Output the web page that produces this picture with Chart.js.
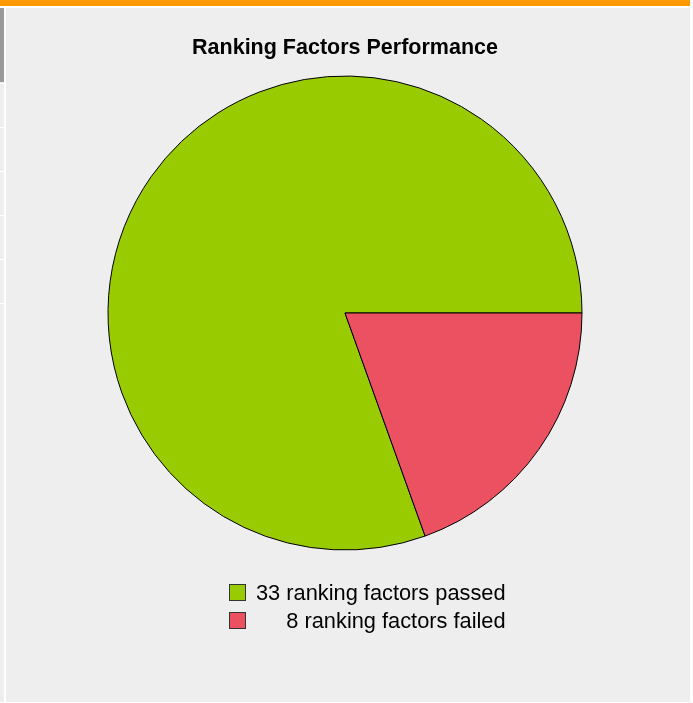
<!DOCTYPE html>
<html>
<head>
<meta charset="utf-8">
<script src="https://cdn.jsdelivr.net/npm/chart.js@4"></script>
<style>
  html, body { margin: 0; padding: 0; background: #ffffff; }
  body { width: 693px; height: 703px; position: relative; overflow: hidden; font-family: "Liberation Sans", Arial, sans-serif; }
  #topbar { position: absolute; left: 0; top: 0; width: 690px; height: 6px; background: #ff9900; }
  #side { position: absolute; left: 0; top: 8px; width: 4px; height: 694px; background: #eeeeee; }
  #sideTab { position: absolute; left: 0; top: 8px; width: 4px; height: 74px; background: #999999; }
  .sideLine { position: absolute; left: 0; width: 4px; height: 1px; background: #ffffff; }
  #panel { position: absolute; left: 6px; top: 8px; width: 684px; height: 694px; background: #eeeeee; }
  #legend { position: absolute; left: 229px; top: 579px; display: grid; grid-template-columns: 17px auto; column-gap: 10px; }
  .legBox { box-sizing: border-box; width: 17px; height: 17px; border: 1px solid #333333; align-self: center; }
  .legText { font-size: 21.8px; line-height: 27.6px; height: 27.6px; color: #000000; text-align: right; white-space: nowrap; }
</style>
</head>
<body>
<div id="topbar"></div>
<div id="side"></div>
<div id="sideTab"></div>
<div class="sideLine" style="top:83px"></div>
<div class="sideLine" style="top:127px"></div>
<div class="sideLine" style="top:171px"></div>
<div class="sideLine" style="top:215px"></div>
<div class="sideLine" style="top:259px"></div>
<div class="sideLine" style="top:303px"></div>
<div id="panel"><canvas id="rankingPie"></canvas></div>
<div id="legend"></div>
<script>
const chartTitle = "Ranking Factors Performance";
const labels = ["33 ranking factors passed", "8 ranking factors failed"];
const values = [33, 8];
const colors = ["#99cc00", "#eb5161"];

const fontFamily = "'Liberation Sans', Arial, sans-serif";

function buildLegend() {
  const legend = document.getElementById("legend");
  labels.forEach((label, i) => {
    const box = document.createElement("div");
    box.className = "legBox";
    box.style.background = colors[i];
    const text = document.createElement("div");
    text.className = "legText";
    text.textContent = label;
    legend.appendChild(box);
    legend.appendChild(text);
  });
}

function chartRanking() {
  const total = values.reduce((a, b) => a + b, 0);
  const chart = document.getElementById("rankingPie");
  const data = {
    labels: labels,
    datasets: [
      {
        data: values,
        backgroundColor: colors,
        borderColor: "#000000",
        borderWidth: 1,
        hoverOffset: 0,
      },
    ],
  };
  const config = {
    type: "pie",
    data: data,
    options: {
      responsive: true,
      maintainAspectRatio: false,
      animation: false,
      // failed slice starts at 3 o'clock and runs clockwise
      rotation: 90 + (360 * values[1]) / total,
      layout: {
        padding: { top: 0, left: 89, right: 95, bottom: 151.5 },
      },
      plugins: {
        legend: { display: false },
        tooltip: { enabled: false },
        title: {
          display: true,
          text: chartTitle,
          color: "#000000",
          font: { family: fontFamily, size: 21.5, weight: "bold" },
          padding: { top: 27, bottom: 14.7 },
        },
      },
    },
  };
  return new Chart(chart, config);
}

buildLegend();
chartRanking();
</script>
</body>
</html>
